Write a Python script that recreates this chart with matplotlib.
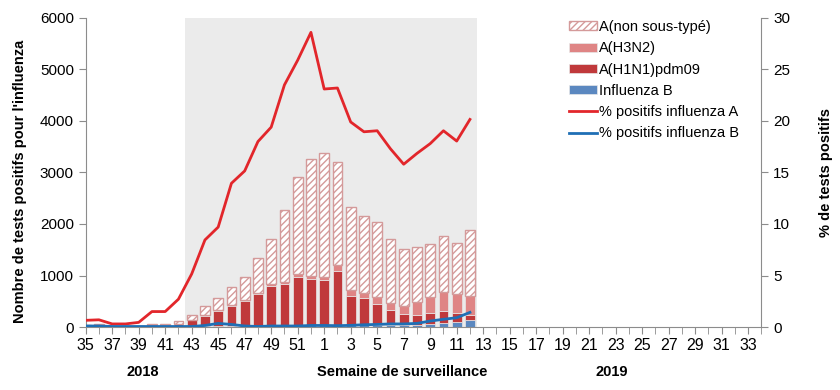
import matplotlib
matplotlib.use("Agg")
import matplotlib.pyplot as plt
from matplotlib import font_manager
from matplotlib.ticker import MultipleLocator, FixedLocator
import numpy as np

# ---- data ----
weeks = list(range(35, 53)) + list(range(1, 35))
flu_b = [20, 15, 10, 10, 10, 15, 15, 15, 20, 20, 25, 25, 20, 20, 20, 25, 25, 30,
         30, 35, 40, 40, 45, 45, 45, 45, 55, 75, 90, 135]
h1n1 = [0, 0, 0, 0, 0, 5, 5, 35, 110, 190, 280, 375, 480, 615, 770, 805, 940, 900,
        880, 1060, 570, 530, 410, 290, 215, 195, 225, 245, 190, 105]
h3n2 = [0, 10, 0, 0, 0, 10, 10, 10, 10, 25, 25, 30, 20, 30, 50, 50, 65, 65,
        65, 100, 105, 95, 120, 125, 150, 245, 310, 360, 360, 360]
non_sub = [10, 30, 10, 10, 15, 35, 35, 60, 100, 180, 240, 355, 460, 680, 860, 1385, 1890, 2275,
           2395, 2000, 1615, 1490, 1470, 1255, 1110, 1070, 1025, 1080, 1000, 1275]
pct_a = [0.65, 0.7, 0.3, 0.3, 0.45, 1.5, 1.5, 2.7, 5.15, 8.45, 9.7, 13.95, 15.15, 18.0, 19.4,
         23.5, 25.9, 28.6, 23.1, 23.2, 19.9, 18.95, 19.05, 17.3, 15.8, 16.85, 17.8, 19.05, 18.05, 20.15]
pct_b = [0.1, 0.1, 0.05, 0.05, 0.05, 0.05, 0.05, 0.05, 0.05, 0.15, 0.35, 0.25, 0.1, 0.05, 0.1,
         0.1, 0.1, 0.15, 0.15, 0.13, 0.16, 0.22, 0.25, 0.3, 0.3, 0.35, 0.58, 0.75, 0.9, 1.42]

labels = ["A(non sous-typé)", "A(H3N2)", "A(H1N1)pdm09", "Influenza B",
          "% positifs influenza A", "% positifs influenza B"]

# ---- fonts ----
avail = {f.name for f in font_manager.fontManager.ttflist}
base = "Liberation Sans" if "Liberation Sans" in avail else "DejaVu Sans"
narrow = "Liberation Sans Narrow" if "Liberation Sans Narrow" in avail else base
plt.rcParams["font.family"] = [base]
plt.rcParams["hatch.color"] = "#d9a3a3"
plt.rcParams["hatch.linewidth"] = 1.0

fig = plt.figure(figsize=(8.4, 3.9), dpi=100)
ax = fig.add_axes([0.102, 0.1615, 0.8045, 0.7925])
ax2 = ax.twinx()

n = len(flu_b)
x = np.arange(n)
b = np.array(flu_b, float)
h1 = np.array(h1n1, float)
h3 = np.array(h3n2, float)
ns = np.array(non_sub, float)

ax.axvspan(7.5, 29.5, color="#ebebeb", zorder=0, lw=0)
w = 0.74
ax.bar(x, b, w, color="#5b88c0", edgecolor="#e8e8e8", lw=0.5, label=labels[3], zorder=2)
ax.bar(x, h1, w, bottom=b, color="#c0393b", edgecolor="#e8e8e8", lw=0.5, label=labels[2], zorder=2)
ax.bar(x, h3, w, bottom=b + h1, color="#df8585", edgecolor="#e8e8e8", lw=0.5, label=labels[1], zorder=2)
ax.bar(x, ns, w, bottom=b + h1 + h3, color="white", edgecolor="#d49a9a", lw=1.0,
       hatch="/////", label=labels[0], zorder=2)

la, = ax2.plot(x, pct_a, color="#e2262b", lw=2.0, label=labels[4])
lb, = ax2.plot(x, pct_b, color="#1f6fb5", lw=2.0, label=labels[5])

ax.set_xlim(0, len(weeks) - 1)
ax.set_ylim(0, 6000)
ax2.set_ylim(0, 30)
ax.yaxis.set_major_locator(MultipleLocator(1000))
ax2.yaxis.set_major_locator(MultipleLocator(5))

ax.set_xticks(np.arange(0, len(weeks), 2))
ax.set_xticklabels([str(weeks[i]) for i in range(0, len(weeks), 2)],
                   fontfamily=narrow, fontsize=11.5)
ax.xaxis.set_minor_locator(FixedLocator(np.arange(0, len(weeks))))

spine_c = "#8c8c8c"
for a in (ax, ax2):
    a.spines["top"].set_visible(False)
    for s in ("left", "right", "bottom"):
        a.spines[s].set_color(spine_c)
ax.spines["right"].set_visible(False)
ax2.spines["left"].set_visible(False)
ax2.spines["bottom"].set_visible(False)

ax.tick_params(axis="x", which="both", length=5, color=spine_c, pad=3)
ax.tick_params(axis="y", length=5, color=spine_c, labelsize=11)
ax2.tick_params(axis="y", length=5, color=spine_c, labelsize=11)

ax.set_ylabel("Nombre de tests positifs pour l'influenza", fontweight="bold", fontsize=10.5)
ax.yaxis.set_label_coords(-0.087, 0.47)
ax2.set_ylabel("% de tests positifs", fontweight="bold", fontsize=10.5)
ax2.yaxis.set_label_coords(1.085, 0.5)

fig.text(402 / 840, 1 - 372 / 390, "Semaine de surveillance", ha="center", va="center",
         fontweight="bold", fontsize=10.5)
fig.text(143 / 840, 1 - 372 / 390, "2018", ha="center", va="center", fontweight="bold", fontsize=10.5)
fig.text(612 / 840, 1 - 372 / 390, "2019", ha="center", va="center", fontweight="bold", fontsize=10.5)

handles, labs = ax.get_legend_handles_labels()
order = [labels.index(l) for l in labs]
hl = sorted(zip(order, handles, labs))
handles = [h for _, h, _ in hl] + [la, lb]
labs = [l for _, _, l in hl] + [labels[4], labels[5]]
leg = ax2.legend(handles, labs, loc="upper left", bbox_to_anchor=(569 / 840, 1 - 20 / 390),
                 bbox_transform=fig.transFigure, frameon=False, fontsize=10.5,
                 handlelength=1.9, handleheight=0.55, handletextpad=0.15,
                 labelspacing=0.5, borderaxespad=0, borderpad=0)

fig.savefig("out.png", dpi=100)
